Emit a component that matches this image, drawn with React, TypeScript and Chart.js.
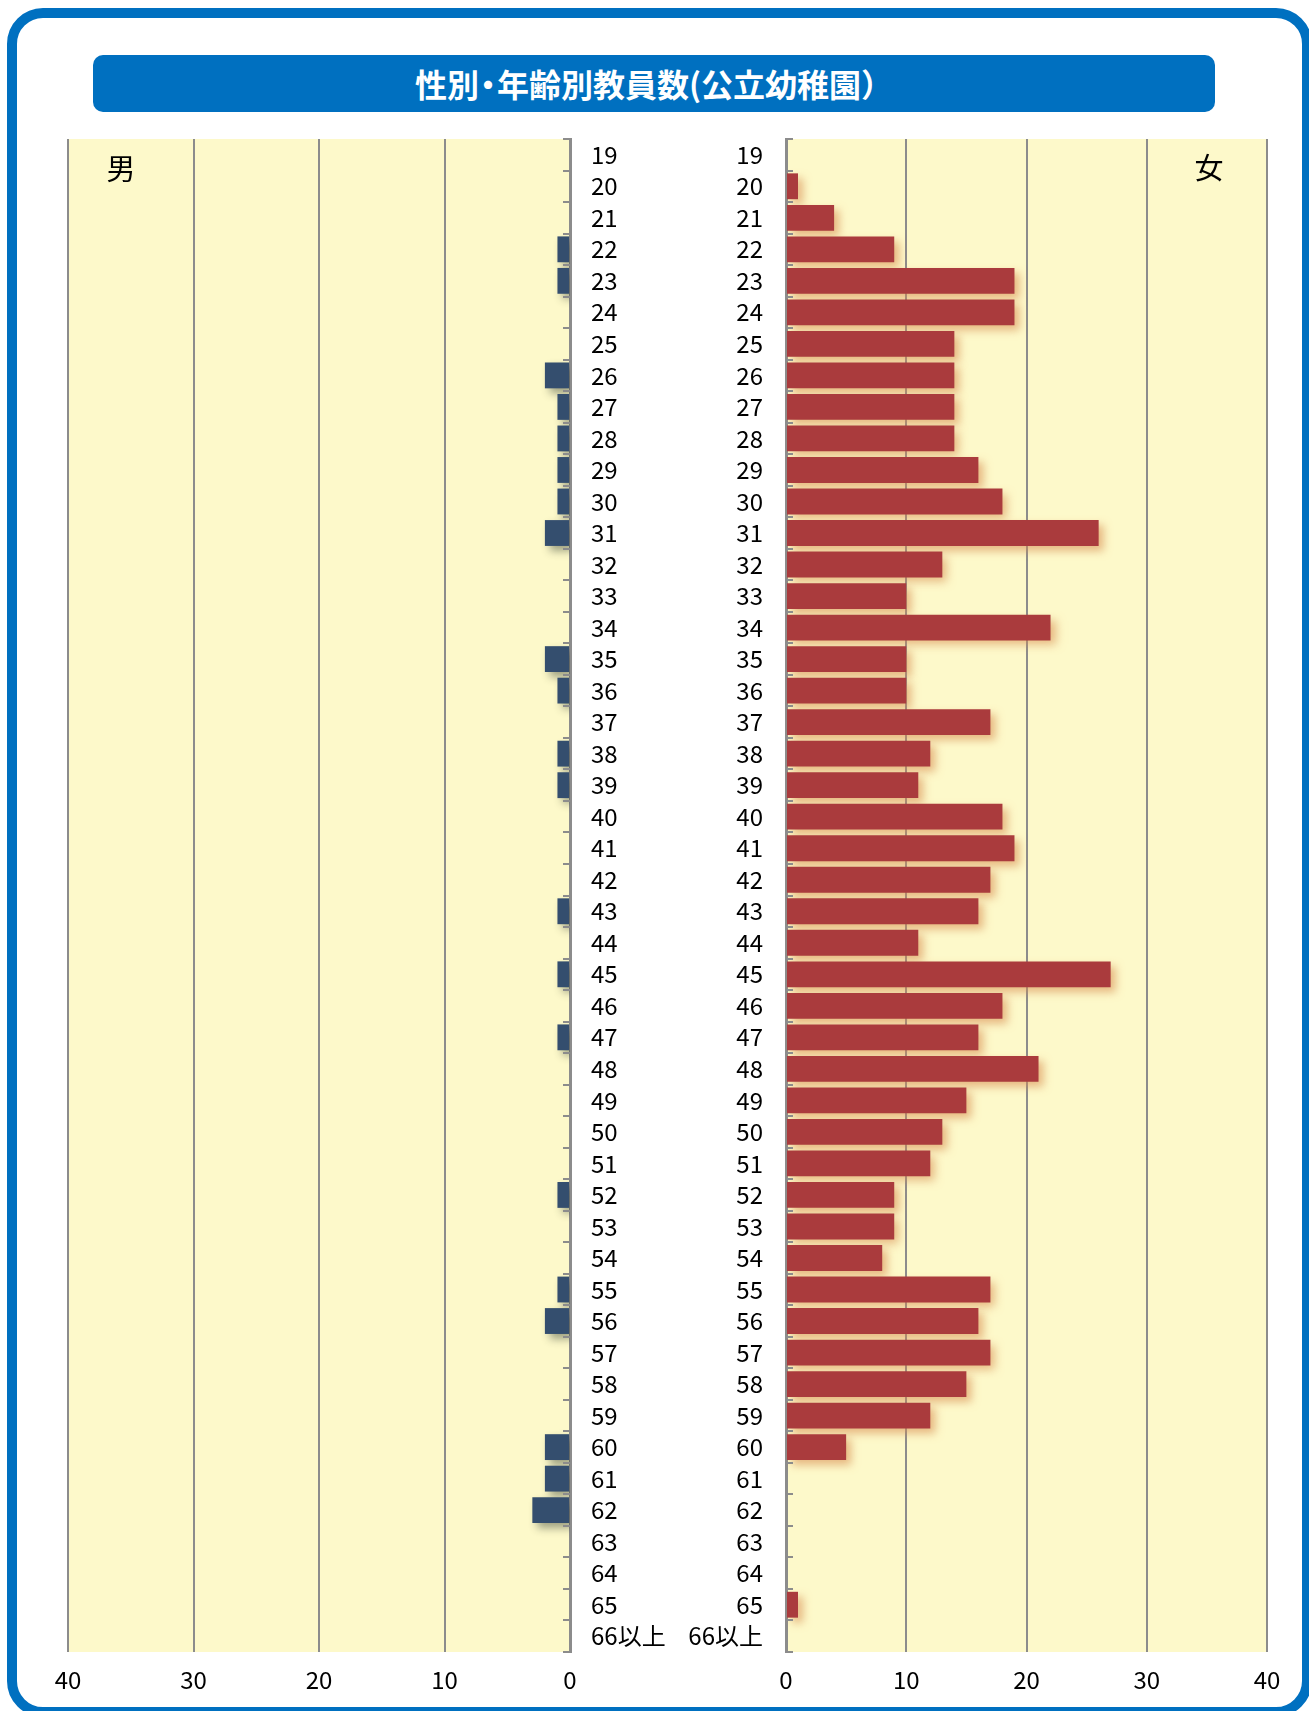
import React, { useEffect, useRef } from "react";
import { Chart, registerables } from "chart.js";

Chart.register(...registerables);

// ---- data ----
const TITLE = "性別・年齢別教員数(公立幼稚園）";
const MALE_LABEL = "男";
const FEMALE_LABEL = "女";
const AGE_LABELS = [
  "19", "20", "21", "22", "23", "24", "25", "26", "27", "28",
  "29", "30", "31", "32", "33", "34", "35", "36", "37", "38",
  "39", "40", "41", "42", "43", "44", "45", "46", "47", "48",
  "49", "50", "51", "52", "53", "54", "55", "56", "57", "58",
  "59", "60", "61", "62", "63", "64", "65", "66以上",
];
const MALE = [
  0, 0, 0, 1, 1, 0, 0, 2, 1, 1,
  1, 1, 2, 0, 0, 0, 2, 1, 0, 1,
  1, 0, 0, 0, 1, 0, 1, 0, 1, 0,
  0, 0, 0, 1, 0, 0, 1, 2, 0, 0,
  0, 2, 2, 3, 0, 0, 0, 0,
];
const FEMALE = [
  0, 1, 4, 9, 19, 19, 14, 14, 14, 14,
  16, 18, 26, 13, 10, 22, 10, 10, 17, 12,
  11, 18, 19, 17, 16, 11, 27, 18, 16, 21,
  15, 13, 12, 9, 9, 8, 17, 16, 17, 15,
  12, 5, 0, 0, 0, 0, 1, 0,
];
const AXIS_MIN = 0;
const AXIS_MAX = 40;
const AXIS_STEP = 10;

// ---- styles ----
const YELLOW = "#FDF9CA";
const GRID = "#8c8c8c";
const MALE_COLOR = "#344E6E";
const FEMALE_COLOR = "#AA3B3D";
const BLUE = "#0070C0";
const FONT = "'Noto Sans CJK JP', 'Noto Sans', sans-serif";

Chart.defaults.font.family = FONT;

const bgPlugin = {
  id: "bgFill",
  beforeDraw(chart: any) {
    const { ctx, chartArea } = chart;
    ctx.save();
    ctx.fillStyle = YELLOW;
    ctx.fillRect(chartArea.left, chartArea.top, chartArea.right - chartArea.left, chartArea.bottom - chartArea.top);
    ctx.restore();
  },
};

function shadowPlugin(color: string) {
  return {
    id: "barShadow",
    beforeDatasetsDraw(chart: any) {
      const ctx = chart.ctx;
      ctx.save();
      ctx.shadowColor = color;
      ctx.shadowBlur = 9;
      ctx.shadowOffsetX = 5;
      ctx.shadowOffsetY = 5;
    },
    afterDatasetsDraw(chart: any) {
      chart.ctx.restore();
    },
  };
}

function tickPlugin(side: "left" | "right") {
  return {
    id: "catTicks",
    afterDraw(chart: any) {
      const yScale = chart.scales.y;
      const ctx = chart.ctx;
      const x0 = side === "right" ? chart.chartArea.right : chart.chartArea.left;
      const dir = side === "right" ? -1 : 1;
      ctx.save();
      ctx.strokeStyle = GRID;
      ctx.lineWidth = 2;
      for (let i = 0; i <= AGE_LABELS.length; i++) {
        const py = Math.round(yScale.getPixelForValue(i - 0.5));
        ctx.beginPath();
        ctx.moveTo(x0, py);
        ctx.lineTo(x0 + dir * 7, py);
        ctx.stroke();
      }
      ctx.restore();
    },
  };
}

function makeConfig(side: "male" | "female"): any {
  const isMale = side === "male";
  return {
    type: "bar",
    data: {
      labels: AGE_LABELS,
      datasets: [
        {
          label: isMale ? MALE_LABEL : FEMALE_LABEL,
          data: isMale ? MALE : FEMALE,
          backgroundColor: isMale ? MALE_COLOR : FEMALE_COLOR,
          borderWidth: 0,
          barPercentage: 0.82,
          categoryPercentage: 1.0,
        },
      ],
    },
    options: {
      indexAxis: "y",
      animation: false,
      responsive: false,
      maintainAspectRatio: false,
      devicePixelRatio: 1,
      layout: {
        padding: isMale
          ? { left: 68, top: 139, right: 0, bottom: 0 }
          : { left: 0, top: 139, right: 42, bottom: 0 },
      },
      plugins: {
        legend: { display: false },
        tooltip: { enabled: false },
        title: { display: false },
      },
      scales: {
        x: {
          type: "linear",
          min: AXIS_MIN,
          max: AXIS_MAX,
          reverse: isMale,
          position: "bottom",
          ticks: {
            stepSize: AXIS_STEP,
            color: "#000",
            font: { size: 24, family: FONT },
            padding: 13,
            maxRotation: 0,
          },
          grid: { color: GRID, lineWidth: 2, drawTicks: false },
          border: { display: false },
          afterFit: (s: any) => {
            s.height = 59;
          },
        },
        y: {
          type: "category",
          position: isMale ? "right" : "left",
          offset: true,
          ticks: {
            color: "#000",
            font: { size: 24, family: FONT },
            padding: isMale ? 21 : 23,
            crossAlign: "near",
            autoSkip: false,
          },
          grid: { display: false, drawTicks: false },
          border: { display: true, color: GRID, width: 3 },
          afterFit: (s: any) => {
            s.width = isMale ? 110 : 106;
          },
        },
      },
    },
    plugins: [
      bgPlugin,
      shadowPlugin(isMale ? "rgba(40,50,40,0.45)" : "rgba(215,140,80,0.6)"),
      tickPlugin(isMale ? "right" : "left"),
    ],
  };
}

function BarCanvas(props: { side: "male" | "female"; left: number; width: number; height: number }) {
  const ref = useRef<HTMLCanvasElement | null>(null);
  useEffect(() => {
    if (!ref.current) return;
    const chart = new Chart(ref.current, makeConfig(props.side));
    return () => chart.destroy();
  }, [props.side]);
  return (
    <canvas
      ref={ref}
      width={props.width}
      height={props.height}
      style={{ position: "absolute", left: props.left, top: 0, width: props.width, height: props.height }}
    />
  );
}

function TitleText() {
  const parts = TITLE.split("・");
  return (
    <>
      {parts.map((p, i) => (
        <React.Fragment key={i}>
          {i > 0 && <span style={{ margin: "0 -7px" }}>・</span>}
          {p}
        </React.Fragment>
      ))}
    </>
  );
}

export default function App() {
  return (
    <div
      style={{
        position: "absolute",
        left: 0,
        top: 0,
        width: 1309,
        height: 1711,
        overflow: "hidden",
        background: "#fff",
        fontFamily: FONT,
      }}
    >
      <div
        style={{
          position: "absolute",
          left: 7,
          top: 8,
          width: 1305,
          height: 1709,
          boxSizing: "border-box",
          border: `10px solid ${BLUE}`,
          borderRadius: 36,
        }}
      />
      <div
        style={{
          position: "absolute",
          left: 93,
          top: 55,
          width: 1122,
          height: 57,
          background: BLUE,
          borderRadius: 10,
          color: "#fff",
          fontWeight: "bold",
          fontSize: 32,
          lineHeight: "57px",
          textAlign: "center",
          letterSpacing: 0,
        }}
      >
        <TitleText />
      </div>
      <BarCanvas side="male" left={0} width={680} height={1711} />
      <BarCanvas side="female" left={680} width={629} height={1711} />
      <div
        style={{
          position: "absolute",
          left: 101,
          top: 147,
          width: 40,
          height: 40,
          lineHeight: "40px",
          fontSize: 29,
          textAlign: "center",
          color: "#000",
        }}
      >
        {MALE_LABEL}
      </div>
      <div
        style={{
          position: "absolute",
          left: 1189,
          top: 146,
          width: 40,
          height: 40,
          lineHeight: "40px",
          fontSize: 29,
          textAlign: "center",
          color: "#000",
        }}
      >
        {FEMALE_LABEL}
      </div>
    </div>
  );
}
